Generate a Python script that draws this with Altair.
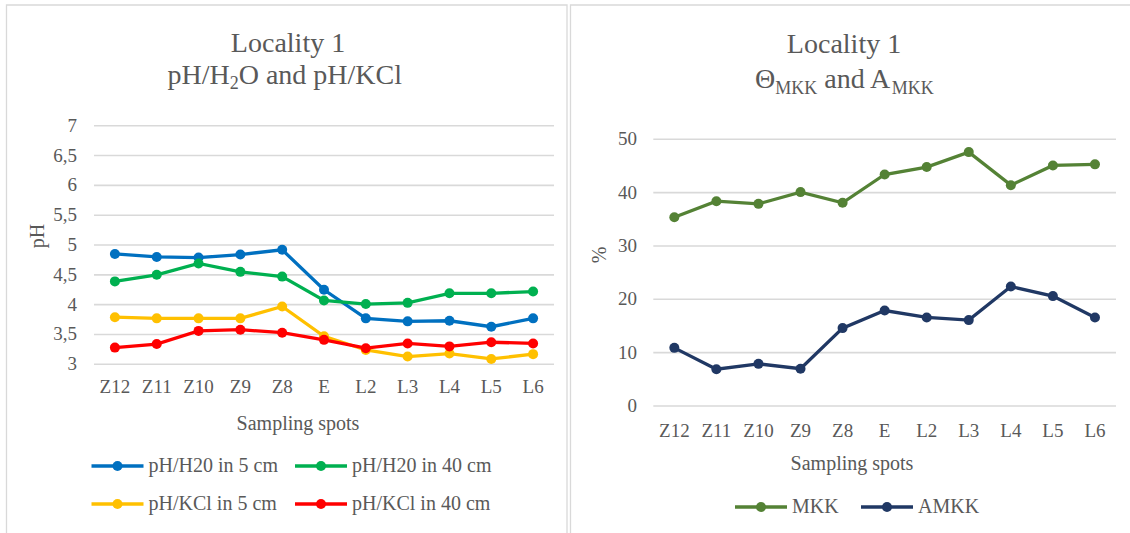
import altair as alt
import pandas as pd

# ---- data -------------------------------------------------------------
spots = ["Z12", "Z11", "Z10", "Z9", "Z8", "E", "L2", "L3", "L4", "L5", "L6"]

ph_h2o_5 = [4.85, 4.80, 4.79, 4.84, 4.92, 4.25, 3.77, 3.72, 3.73, 3.63, 3.77]
ph_h2o_40 = [4.39, 4.50, 4.69, 4.55, 4.47, 4.07, 4.01, 4.03, 4.19, 4.19, 4.22]
ph_kcl_5 = [3.79, 3.77, 3.77, 3.77, 3.97, 3.47, 3.24, 3.13, 3.18, 3.09, 3.17]
ph_kcl_40 = [3.28, 3.34, 3.56, 3.58, 3.53, 3.41, 3.27, 3.35, 3.30, 3.37, 3.35]

mkk = [35.4, 38.4, 37.9, 40.1, 38.1, 43.4, 44.8, 47.6, 41.4, 45.1, 45.3]
amkk = [10.9, 6.9, 7.9, 7.0, 14.6, 17.9, 16.6, 16.1, 22.4, 20.6, 16.6]

ph_series = ["pH/H20 in 5 cm", "pH/H20 in 40 cm", "pH/KCl in 5 cm", "pH/KCl in 40 cm"]
ph_values = [ph_h2o_5, ph_h2o_40, ph_kcl_5, ph_kcl_40]
ph_colors = ["#0070C0", "#00B050", "#FFC000", "#FF0000"]

pct_series = ["MKK", "AMKK"]
pct_values = [mkk, amkk]
pct_colors = ["#548235", "#203864"]

ph_ticks = [3, 3.5, 4, 4.5, 5, 5.5, 6, 6.5, 7]
pct_ticks = [0, 10, 20, 30, 40, 50]

# ---- styling ----------------------------------------------------------
FONT = "Liberation Serif"
TXT = "#595959"
GRID = "#d9d9d9"
W, H = 1130, 533

ph_df = pd.DataFrame(
    [{"spot": s, "value": v, "series": name}
     for name, vals in zip(ph_series, ph_values)
     for s, v in zip(spots, vals)]
)
pct_df = pd.DataFrame(
    [{"spot": s, "value": v, "series": name}
     for name, vals in zip(pct_series, pct_values)
     for s, v in zip(spots, vals)]
)

# explicit pixel ranges place both panels side by side in one canvas
ph_x = alt.Scale(type="point", domain=spots, range=[94, 554], padding=0.5)
ph_y = alt.Scale(domain=[3, 7], range=[364.3, 125.7], zero=False, nice=False)
ph_c = alt.Scale(domain=ph_series, range=ph_colors)

pct_x = alt.Scale(type="point", domain=spots, range=[653.3, 1116], padding=0.5)
pct_y = alt.Scale(domain=[0, 50], range=[406, 139.3], zero=False, nice=False)
pct_c = alt.Scale(domain=pct_series, range=pct_colors)


def label(text, x, y, size=19, align="center", baseline="middle", angle=0):
    return alt.Chart(pd.DataFrame({"t": [text]})).mark_text(
        font=FONT, fontSize=size, color=TXT, align=align, baseline=baseline, angle=angle
    ).encode(x=alt.value(x), y=alt.value(y), text="t:N")


def frame(x0, x1, y0, y1):
    return alt.Chart(pd.DataFrame({"k": [0]})).mark_rect(
        filled=False, stroke=GRID, strokeWidth=1.3
    ).encode(x=alt.value(x0), x2=alt.value(x1), y=alt.value(y0), y2=alt.value(y1))


def panel(df, series, xs, ys, cs, ticks, tick_x, x0, x1, xlab_y):
    tick_df = pd.DataFrame({
        "v": ticks,
        "lab": [f"{t:g}".replace(".", ",") for t in ticks],
    })
    grid = alt.Chart(tick_df).mark_rule(color=GRID, strokeWidth=1.6).encode(
        y=alt.Y("v:Q", scale=ys, axis=None), x=alt.value(x0), x2=alt.value(x1)
    )
    ylabels = alt.Chart(tick_df).mark_text(
        font=FONT, fontSize=19, color=TXT, align="right", baseline="middle"
    ).encode(y=alt.Y("v:Q", scale=ys, axis=None), x=alt.value(tick_x), text="lab:N")
    xlabels = alt.Chart(pd.DataFrame({"spot": spots})).mark_text(
        font=FONT, fontSize=19, color=TXT, baseline="middle"
    ).encode(x=alt.X("spot:N", scale=xs, axis=None), y=alt.value(xlab_y), text="spot:N")
    layers = [grid, ylabels, xlabels]
    for name in series:
        layers.append(
            alt.Chart(df).transform_filter(alt.datum.series == name).mark_line(
                strokeWidth=3.3,
                point=alt.OverlayMarkDef(filled=True, size=100, opacity=1),
            ).encode(
                x=alt.X("spot:N", scale=xs, axis=None),
                y=alt.Y("value:Q", scale=ys, axis=None),
                color=alt.Color("series:N", scale=cs, legend=None),
            )
        )
    return layers


def legend(series, cs, x_range, y_range, ncol):
    ldf = pd.DataFrame({
        "series": series,
        "col": [i % ncol for i in range(len(series))],
        "row": [i // ncol for i in range(len(series))],
    })
    lx = alt.X("col:Q", scale=alt.Scale(domain=[0, max(ncol - 1, 1)], range=x_range, zero=False, nice=False), axis=None)
    ly = alt.Y("row:Q", scale=alt.Scale(domain=[0, 1], range=y_range, zero=False, nice=False), axis=None)
    col = alt.Color("series:N", scale=cs, legend=None)
    base = alt.Chart(ldf)
    stroke = base.mark_point(shape="stroke", size=52 * 52, strokeWidth=3.3, filled=False, opacity=1).encode(x=lx, y=ly, color=col)
    dot = base.mark_circle(size=100, opacity=1).encode(x=lx, y=ly, color=col)
    txt = base.mark_text(font=FONT, fontSize=20, color=TXT, align="left", baseline="middle", dx=31).encode(
        x=lx, y=ly, text="series:N")
    return [stroke, dot, txt]


layers = [frame(6.5, 567, 5, 560), frame(570.5, 1140, 5, 560)]

# left panel: pH
layers += panel(ph_df, ph_series, ph_x, ph_y, ph_c, ph_ticks, 77, 94, 554, 387)
layers += legend(ph_series, ph_c, [117.5, 321], [466, 504], 2)
layers += [
    label("Locality 1", 288, 52, size=28, baseline="alphabetic"),
    label("pH/H", 229.7, 84, size=28, align="right", baseline="alphabetic"),
    label("2", 229.7, 89, size=18, align="left", baseline="alphabetic"),
    label("O and pH/KCl", 238.7, 84, size=28, align="left", baseline="alphabetic"),
    label("Sampling spots", 298, 424, size=20),
    label("pH", 38, 236, size=20, angle=270),
]

# right panel: MKK / AMKK
layers += panel(pct_df, pct_series, pct_x, pct_y, pct_c, pct_ticks, 637, 653.3, 1116, 431)
layers += legend(pct_series, pct_c, [761, 887], [507, 545], 2)
layers += [
    label("Locality 1", 844, 53, size=28, baseline="alphabetic"),
    label("\u0398", 755, 88, size=28, align="left", baseline="alphabetic"),
    label("MKK", 775.2, 94, size=18, align="left", baseline="alphabetic"),
    label("and A", 824.2, 88, size=28, align="left", baseline="alphabetic"),
    label("MKK", 891.8, 94, size=18, align="left", baseline="alphabetic"),
    label("Sampling spots", 852, 464, size=20),
    label("%", 600, 255, size=20, angle=270),
]

chart = alt.layer(*layers).resolve_scale(
    x="independent", y="independent", color="independent"
).properties(
    width=W, height=H, padding=0, autosize=alt.AutoSizeParams(type="none")
).configure_view(stroke=None)

chart.save("out.html", embed_options={"renderer": "svg", "actions": False})
